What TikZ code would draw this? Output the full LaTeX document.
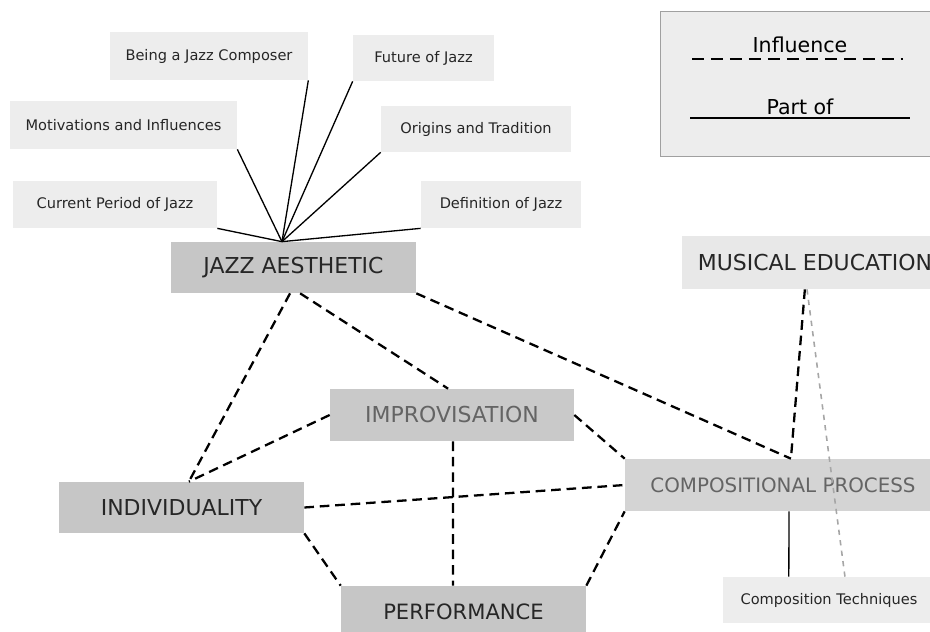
\documentclass[tikz,border=0pt]{standalone}
\usepackage{fontspec}
\setmainfont{DejaVu Sans}
\usetikzlibrary{positioning, calc}
\definecolor{topicgray}{RGB}{237,237,237}
\definecolor{themegray}{RGB}{198,198,198}
\definecolor{processgray}{RGB}{212,212,212}
\definecolor{dimtext}{RGB}{100,100,100}
\definecolor{framegray}{RGB}{160,160,160}

\begin{document}
\begin{tikzpicture}[x=0.02cm, y=-0.02cm,
    smallbox/.style={rectangle, fill=topicgray, inner sep=0pt, font=\fontsize{8.3}{10}\selectfont, text=black!85},
    mainbox/.style={rectangle, fill=themegray, inner sep=0pt, font=\fontsize{12.5}{14}\selectfont, text=black!85},
    influence/.style={line width=1.3pt, dash pattern=on 5.5pt off 3.3pt},
    partof/.style={line width=0.75pt}]
    \clip (0,0) rectangle (930,632);

    % Legend
    \node[rectangle, draw=framegray, fill=topicgray, minimum width=5.7cm, minimum height=2.9cm] (legend) at (802.5,83.5) {};
    \node[font=\fontsize{11.7}{13}\selectfont] (infltext) at (800,45) {Influence};
    \node[font=\fontsize{11.7}{13}\selectfont] (parttext) at (800,107) {Part of};
    \coordinate (infl-a) at (692,59);
    \coordinate (infl-b) at (903,59);
    \coordinate (part-a) at (690,118);
    \coordinate (part-b) at (910,118);
    \draw[line width=1.7pt, dash pattern=on 6.8pt off 4pt] (infl-a) -- (infl-b);
    \draw[line width=0.8pt] (part-a) -- (part-b);

    % Topics around the aesthetic
    \node[smallbox, minimum width=3.96cm, minimum height=0.96cm] (composer) at (209,56) {Being a Jazz Composer};
    \node[smallbox, minimum width=2.82cm, minimum height=0.92cm] (future) at (423.5,58) {Future of Jazz};
    \node[smallbox, minimum width=4.54cm, minimum height=0.96cm] (motiv) at (123.5,125) {Motivations and Influences};
    \node[smallbox, minimum width=3.80cm, minimum height=0.92cm] (origins) at (476,129) {Origins and Tradition};
    \node[smallbox, minimum width=4.08cm, minimum height=0.94cm] (current) at (115,204.5) {Current Period of Jazz};
    \node[smallbox, minimum width=3.20cm, minimum height=0.94cm] (definition) at (501,204.5) {Definition of Jazz};

    % Main themes
    \node[mainbox, minimum width=4.90cm, minimum height=1.02cm] (aesthetic) at (293.5,267.5) {JAZZ AESTHETIC};
    \node[mainbox, minimum width=4.88cm, minimum height=1.04cm, fill=themegray!95!white, text=dimtext] (improv) at (452,415) {IMPROVISATION};
    \node[mainbox, minimum width=4.90cm, minimum height=1.02cm] (individ) at (181.5,507.5) {INDIVIDUALITY};
    \node[mainbox, minimum width=4.90cm, minimum height=1.02cm, font=\fontsize{12}{14}\selectfont] (perform) at (463.5,611.5) {PERFORMANCE};
    \node[mainbox, minimum width=6.32cm, minimum height=1.04cm, fill=processgray, text=dimtext, font=\fontsize{11.3}{13}\selectfont] (compproc) at (783,485) {COMPOSITIONAL PROCESS};
    \node[mainbox, minimum width=5.32cm, minimum height=1.06cm, fill=topicgray!98!black] (musiced) at (815,262.5) {MUSICAL EDUCATION};
    \node[smallbox, minimum width=4.24cm, minimum height=0.92cm] (comptech) at (829,600) {Composition Techniques};

    % Part-of spokes
    \coordinate (hub) at ($(aesthetic.north west)!0.453!(aesthetic.north east)$);
    \foreach \topic/\corner in {composer/south east, future/south west, motiv/south east, origins/south west, current/south east, definition/south west} {
        \draw[partof] (hub) -- (\topic.\corner);
    }

    % Influence links
    \coordinate (indtop) at ($(individ.north west)!0.53!(individ.north east)$);
    \coordinate (cptop) at ($(compproc.north west)!0.525!(compproc.north east)$);
    \draw[influence] ($(aesthetic.south west)!0.486!(aesthetic.south east)$) -- (indtop);
    \draw[influence] ($(aesthetic.south west)!0.527!(aesthetic.south east)$) -- ($(improv.north west)!0.484!(improv.north east)$);
    \draw[influence] (aesthetic.south east) -- (cptop);
    \draw[influence] (improv.west) -- (indtop);
    \draw[influence] ($(improv.south west)!0.504!(improv.south east)$) -- ($(perform.north west)!0.457!(perform.north east)$);
    \draw[influence] (improv.east) -- (compproc.north west);
    \draw[influence] (individ.east) -- (compproc.west);
    \draw[influence] (individ.south east) -- (perform.north west);
    \draw[influence] (perform.north east) -- (compproc.south west);
    \draw[influence] ($(musiced.south west)!0.462!(musiced.south east)$) -- (cptop);
    \draw[line width=0.9pt, gray!70, dash pattern=on 3pt off 3pt] ($(musiced.south west)!0.47!(musiced.south east)$) -- ($(comptech.north west)!0.575!(comptech.north east)$);
    \draw[partof] ($(compproc.south west)!0.519!(compproc.south east)$) -- ($(comptech.north west)!0.311!(comptech.north east)$);
\end{tikzpicture}
\end{document}
